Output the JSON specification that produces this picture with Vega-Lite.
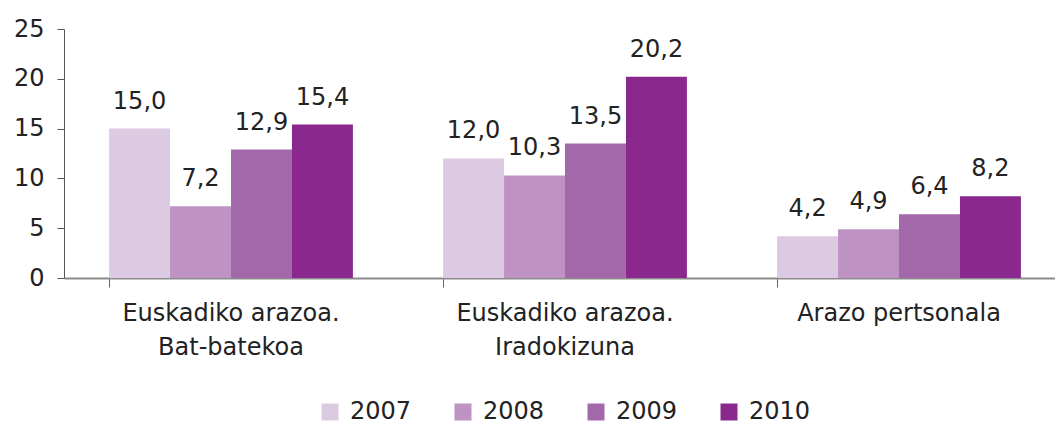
{
  "$schema": "https://vega.github.io/schema/vega-lite/v6.json",
  "width": 991,
  "height": 249,
  "autosize": {"type": "none"},
  "padding": {"left": 64, "top": 29, "right": 0, "bottom": 147},
  "background": "white",
  "config": {
    "view": {"stroke": null},
    "font": "DejaVu Sans",
    "locale": {"number": {"decimal": ",", "thousands": ".", "grouping": [3], "currency": ["", " €"]}}
  },
  "data": {
    "values": [
      {"cat": "Euskadiko arazoa.|Bat-batekoa", "year": "2007", "value": 15.0},
      {"cat": "Euskadiko arazoa.|Bat-batekoa", "year": "2008", "value": 7.2},
      {"cat": "Euskadiko arazoa.|Bat-batekoa", "year": "2009", "value": 12.9},
      {"cat": "Euskadiko arazoa.|Bat-batekoa", "year": "2010", "value": 15.4},
      {"cat": "Euskadiko arazoa.|Iradokizuna", "year": "2007", "value": 12.0},
      {"cat": "Euskadiko arazoa.|Iradokizuna", "year": "2008", "value": 10.3},
      {"cat": "Euskadiko arazoa.|Iradokizuna", "year": "2009", "value": 13.5},
      {"cat": "Euskadiko arazoa.|Iradokizuna", "year": "2010", "value": 20.2},
      {"cat": "Arazo pertsonala", "year": "2007", "value": 4.2},
      {"cat": "Arazo pertsonala", "year": "2008", "value": 4.9},
      {"cat": "Arazo pertsonala", "year": "2009", "value": 6.4},
      {"cat": "Arazo pertsonala", "year": "2010", "value": 8.2}
    ]
  },
  "encoding": {
    "x": {
      "field": "cat", "type": "nominal", "sort": null,
      "scale": {"range": [0, 1002], "paddingInner": 0.27, "paddingOuter": 0.135},
      "axis": {
        "title": null, "labelAngle": 0, "bandPosition": 0, "labelLimit": 0,
        "labelExpr": "split(datum.label, '|')",
        "labelFontSize": 24, "labelColor": "#222", "labelLineHeight": 34,
        "labelPadding": 14, "labelBaseline": "top",
        "domainColor": "#8c8c8c", "domainWidth": 2,
        "tickColor": "#666", "tickSize": 9, "tickWidth": 1
      }
    },
    "xOffset": {"field": "year", "type": "nominal", "scale": {"paddingInner": 0, "paddingOuter": 0}},
    "y": {
      "field": "value", "type": "quantitative",
      "scale": {"domain": [0, 25], "nice": false},
      "axis": {
        "title": null, "values": [0, 5, 10, 15, 20, 25], "grid": false,
        "labelFontSize": 24, "labelColor": "#222", "labelPadding": 13,
        "domainColor": "#555", "domainWidth": 1,
        "tickColor": "#555", "tickSize": 7, "format": "d"
      }
    }
  },
  "layer": [
    {
      "mark": {"type": "bar"},
      "encoding": {
        "color": {
          "field": "year", "type": "nominal",
          "scale": {"domain": ["2007", "2008", "2009", "2010"], "range": ["#DCCAE2", "#BE93C4", "#A268A9", "#8A288E"]},
          "legend": {
            "title": null, "orient": "none", "direction": "horizontal",
            "legendX": 254, "legendY": 371,
            "symbolType": "square", "symbolSize": 289, "symbolStrokeWidth": 0,
            "labelFontSize": 24, "labelColor": "#222", "labelOffset": 8,
            "columnPadding": 39
          }
        }
      }
    },
    {
      "mark": {"type": "text", "baseline": "alphabetic", "dy": -20, "fontSize": 24, "color": "#222"},
      "encoding": {
        "text": {"field": "value", "type": "quantitative", "format": ".1f"}
      }
    }
  ]
}
